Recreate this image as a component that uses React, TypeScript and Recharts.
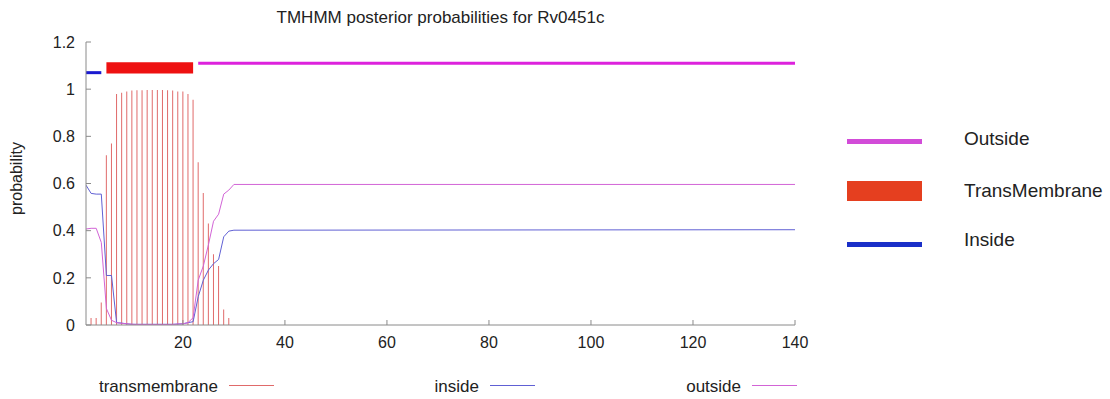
import React from 'react';
import {
  ComposedChart,
  Bar,
  Line,
  XAxis,
  YAxis,
  ReferenceLine,
  ReferenceArea,
} from 'recharts';

// residue positions (profile is flat after 30, so the last point closes it)
const residue = [
  1, 2, 3, 4, 5, 6, 7, 8, 9, 10, 11, 12, 13, 14, 15, 16, 17, 18, 19, 20,
  21, 22, 23, 24, 25, 26, 27, 28, 29, 30, 140,
];
const transmembrane = [
  0, 0.03, 0.03, 0.095, 0.72, 0.77, 0.98, 0.985, 0.99, 0.994, 0.995, 0.995,
  0.996, 0.996, 0.996, 0.996, 0.995, 0.994, 0.99, 0.99, 0.98, 0.955, 0.69,
  0.56, 0.43, 0.3, 0.25, 0.066, 0.03, 0, 0,
];
const inside = [
  0.593, 0.558, 0.555, 0.555, 0.21, 0.21, 0.01, 0.008, 0.005, 0.003, 0.003,
  0.003, 0.003, 0.003, 0.003, 0.003, 0.003, 0.003, 0.004, 0.005, 0.01, 0.014,
  0.12, 0.19, 0.233, 0.26, 0.278, 0.374, 0.398, 0.402, 0.404,
];
const outside = [
  0.407, 0.41, 0.41, 0.35, 0.07, 0.02, 0.01, 0.007, 0.005, 0.003, 0.002,
  0.002, 0.002, 0.002, 0.002, 0.002, 0.002, 0.002, 0.004, 0.005, 0.01, 0.031,
  0.19, 0.25, 0.34, 0.44, 0.47, 0.555, 0.572, 0.596, 0.596,
];

const xTicks = [20, 40, 60, 80, 100, 120, 140];
const yTicks = [0, 0.2, 0.4, 0.6, 0.8, 1, 1.2];

// predicted topology (residue ranges)
const insideSpan = [1, 4];
const tmSpan = [5, 22];
const outsideSpan = [23, 140];

const data = residue.map((r, i) => ({
  residue: r,
  transmembrane: transmembrane[i],
  inside: inside[i],
  outside: outside[i],
}));

const FONT = '"Liberation Sans", Arial, Helvetica, sans-serif';
const AXIS = '#8a8a8a';
const TM_COLOR = '#e06a6a';
const IN_COLOR = '#6060d4';
const OUT_COLOR = '#d264d6';

const BottomTick = (props: any) => {
  const { x, y, payload } = props;
  return (
    <g>
      <line x1={x} x2={x} y1={y} y2={y - 5} stroke={AXIS} />
      <text x={x} y={y + 23} textAnchor="middle" fontSize={16} fill="#222" fontFamily={FONT}>
        {payload.value}
      </text>
    </g>
  );
};

const LeftTick = (props: any) => {
  const { x, y, payload } = props;
  return (
    <g>
      <line x1={x} x2={x + 5} y1={y} y2={y} stroke={AXIS} />
      <text x={x - 11} y={y} dy="0.36em" textAnchor="end" fontSize={16} fill="#222" fontFamily={FONT}>
        {String(payload.value)}
      </text>
    </g>
  );
};

const YLabel = (props: any) => {
  const { viewBox } = props;
  const cy = viewBox.y + viewBox.height / 2 - 5;
  return (
    <text
      transform={`translate(22, ${cy}) rotate(-90)`}
      textAnchor="middle"
      fontSize={16}
      fill="#222"
      fontFamily={FONT}
    >
      probability
    </text>
  );
};

const bottomKeys = [
  { name: 'transmembrane', color: TM_COLOR, lineLeft: 229 },
  { name: 'inside', color: IN_COLOR, lineLeft: 490 },
  { name: 'outside', color: OUT_COLOR, lineLeft: 752 },
];

const sideKeys = [
  { name: 'Outside', kind: 'line', color: '#d24cd8', top: 139, textTop: 129 },
  { name: 'TransMembrane', kind: 'box', color: '#e53f1f', top: 181, textTop: 181 },
  { name: 'Inside', kind: 'line', color: '#1a2fc8', top: 242, textTop: 230 },
];

export default function App() {
  return (
    <div
      style={{
        position: 'absolute',
        left: 0,
        top: 0,
        width: 1110,
        height: 399,
        overflow: 'hidden',
        background: '#fff',
        fontFamily: FONT,
        color: '#222',
      }}
    >
      <div
        style={{
          position: 'absolute',
          left: 86,
          width: 709,
          top: 9,
          textAlign: 'center',
          fontSize: 17,
          lineHeight: 1,
        }}
      >
        TMHMM posterior probabilities for Rv0451c
      </div>

      <ComposedChart
        width={1110}
        height={399}
        data={data}
        margin={{ top: 42, right: 315, bottom: 0, left: 0 }}
      >
        <XAxis
          dataKey="residue"
          type="number"
          domain={[1, 140]}
          ticks={xTicks}
          interval={0}
          allowDataOverflow
          height={74}
          tickSize={0}
          tickMargin={0}
          tickLine={false}
          axisLine={{ stroke: AXIS }}
          tick={<BottomTick />}
        />
        <XAxis
          xAxisId="top"
          orientation="top"
          type="number"
          domain={[1, 140]}
          ticks={xTicks}
          interval={0}
          allowDataOverflow
          height={0}
          mirror
          tickSize={5}
          tickLine={{ stroke: AXIS }}
          axisLine={{ stroke: AXIS }}
          tickFormatter={() => ''}
        />
        <YAxis
          type="number"
          domain={[0, 1.2]}
          ticks={yTicks}
          interval={0}
          allowDataOverflow
          width={86}
          tickSize={0}
          tickMargin={0}
          tickLine={false}
          axisLine={{ stroke: AXIS }}
          tick={<LeftTick />}
          label={<YLabel />}
        />
        <YAxis
          yAxisId="right"
          orientation="right"
          type="number"
          domain={[0, 1.2]}
          ticks={yTicks}
          interval={0}
          allowDataOverflow
          width={0}
          mirror
          tickSize={5}
          tickLine={{ stroke: AXIS }}
          axisLine={{ stroke: AXIS }}
          tickFormatter={() => ''}
        />

        <Bar dataKey="transmembrane" fill={TM_COLOR} barSize={1} isAnimationActive={false} />
        <Line
          type="linear"
          dataKey="inside"
          stroke={IN_COLOR}
          strokeWidth={1}
          dot={false}
          isAnimationActive={false}
        />
        <Line
          type="linear"
          dataKey="outside"
          stroke={OUT_COLOR}
          strokeWidth={1}
          dot={false}
          isAnimationActive={false}
        />

        <ReferenceLine
          segment={[
            { x: insideSpan[0], y: 1.07 },
            { x: insideSpan[1], y: 1.07 },
          ]}
          stroke="#1a1ad0"
          strokeWidth={3}
        />
        <ReferenceArea
          x1={tmSpan[0]}
          x2={tmSpan[1]}
          y1={1.066}
          y2={1.114}
          fill="#ee1111"
          fillOpacity={1}
          stroke="none"
        />
        <ReferenceLine
          segment={[
            { x: outsideSpan[0], y: 1.11 },
            { x: outsideSpan[1], y: 1.11 },
          ]}
          stroke="#dd22dd"
          strokeWidth={3}
        />
      </ComposedChart>

      {bottomKeys.map((k) => (
        <React.Fragment key={k.name}>
          <div
            style={{
              position: 'absolute',
              right: 1110 - (k.lineLeft - 11),
              top: 378,
              fontSize: 17,
              lineHeight: 1,
              whiteSpace: 'nowrap',
            }}
          >
            {k.name}
          </div>
          <div
            style={{
              position: 'absolute',
              left: k.lineLeft,
              top: 385,
              width: 45,
              height: 1,
              background: k.color,
            }}
          />
        </React.Fragment>
      ))}

      {sideKeys.map((k) => (
        <React.Fragment key={k.name}>
          <div
            style={{
              position: 'absolute',
              left: 847,
              top: k.top,
              width: 75,
              height: k.kind === 'box' ? 20 : 5,
              background: k.color,
            }}
          />
          <div
            style={{
              position: 'absolute',
              left: 964,
              top: k.textTop,
              fontSize: 19,
              lineHeight: 1,
              whiteSpace: 'nowrap',
            }}
          >
            {k.name}
          </div>
        </React.Fragment>
      ))}
    </div>
  );
}
